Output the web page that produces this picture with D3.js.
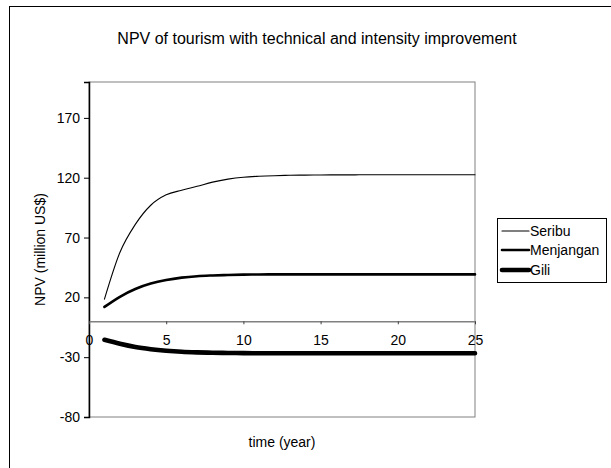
<!DOCTYPE html>
<html>
<head>
<meta charset="utf-8">
<script src="https://cdn.jsdelivr.net/npm/d3@7/dist/d3.min.js"></script>
<style>
  html, body { margin: 0; padding: 0; background: #fff; }
  svg { display: block; font-family: Arial, "Liberation Sans", sans-serif; }
</style>
</head>
<body>
<svg id="chart" width="611" height="468"></svg>
<script>
const title = "NPV of tourism with technical and intensity improvement";
const xLabel = "time (year)";
const yLabel = "NPV (million US$)";
const years = [1,2,3,4,5,6,7,8,9,10,11,12,13,14,15,16,17,18,19,20,21,22,23,24,25];
const seribu = [18.5,57.5,81,97,105.7,109.5,112.8,116.3,118.8,120.4,121.2,121.7,122.0,122.2,122.3,122.4,122.4,122.5,122.5,122.5,122.5,122.5,122.5,122.5,122.5];
const menjangan = [12,20.5,27,31.5,34.5,36.5,37.7,38.3,38.7,39.0,39.1,39.2,39.2,39.2,39.2,39.2,39.2,39.2,39.2,39.2,39.2,39.2,39.2,39.2,39.2];
const gili = [-15.5,-18.8,-21.5,-23.3,-24.6,-25.5,-26.0,-26.3,-26.5,-26.6,-26.7,-26.7,-26.7,-26.7,-26.7,-26.7,-26.7,-26.7,-26.7,-26.7,-26.7,-26.7,-26.7,-26.7,-26.7];
const seriesNames = ["Seribu","Menjangan","Gili"];
const seriesWidths = [1.1, 2.6, 4.6];
const yTicks = [-80,-30,20,70,120,170];
const xTicks = [0,5,10,15,20,25];

const FONT = "Arial, 'Liberation Sans', sans-serif";
const svg = d3.select("#chart");
const L = 89, R = 475, T = 82, B = 417;

// outer chart border
svg.append("rect").attr("x", 9.5).attr("y", 6.5).attr("width", 640).attr("height", 500)
  .attr("fill", "none").attr("stroke", "#000").attr("stroke-width", 1);

const x = d3.scaleLinear().domain([0, 25]).range([L, R]);
const y = d3.scaleLinear().domain([-80, 200]).range([B, T]);

// plot area border
svg.append("rect").attr("x", L).attr("y", T).attr("width", R - L).attr("height", B - T)
  .attr("fill", "none").attr("stroke", "#808080").attr("stroke-width", 1);

// title
svg.append("text").attr("x", 317).attr("y", 44).attr("text-anchor", "middle")
  .attr("font-size", 16).attr("fill", "#000").text(title);

// y axis
const yAxis = svg.append("g").attr("transform", `translate(${L},0)`)
  .call(d3.axisLeft(y).tickValues(yTicks).tickSize(5).tickPadding(4).tickFormat(d => String(d)));
yAxis.select(".domain").attr("stroke", "#000").attr("stroke-width", 1.5);
yAxis.selectAll(".tick line").attr("stroke", "#000");
yAxis.selectAll("text").attr("font-size", 14).attr("fill", "#000").attr("font-family", FONT);

// x axis at y=0
const xAxis = svg.append("g").attr("transform", `translate(0,${y(0)})`)
  .call(d3.axisBottom(x).tickValues(xTicks).tickSize(3).tickPadding(11).tickSizeOuter(0).tickFormat(d => String(d)));
xAxis.select(".domain").attr("stroke", "#808080").attr("stroke-width", 1.5);
xAxis.selectAll(".tick line").attr("stroke", "#404040");
xAxis.selectAll("text").attr("font-size", 14).attr("fill", "#000").attr("font-family", FONT);

// axis titles
svg.append("text").attr("x", (L + R) / 2).attr("y", 447).attr("text-anchor", "middle")
  .attr("font-size", 14).text(xLabel);
svg.append("text").attr("transform", `translate(45,${(T + B) / 2}) rotate(-90)`)
  .attr("text-anchor", "middle").attr("font-size", 14).text(yLabel);

// lines
const all = [seribu, menjangan, gili];
const line = d3.line().x((d, i) => x(years[i])).y(d => y(d)).curve(d3.curveMonotoneX);
all.forEach((vals, k) => {
  svg.append("path").datum(vals).attr("d", line)
    .attr("fill", "none").attr("stroke", "#000").attr("stroke-width", seriesWidths[k])
    .attr("stroke-linejoin", "round").attr("stroke-linecap", "round");
});

// legend
const lg = svg.append("g");
lg.append("rect").attr("x", 497.5).attr("y", 218.5).attr("width", 109).attr("height", 64)
  .attr("fill", "#fff").attr("stroke", "#000").attr("stroke-width", 1);
const legendY = [231, 250, 270];
seriesNames.forEach((name, k) => {
  lg.append("line").attr("x1", 502).attr("x2", 529).attr("y1", legendY[k]).attr("y2", legendY[k])
    .attr("stroke", "#000").attr("stroke-width", seriesWidths[k]).attr("stroke-linecap", "round");
  lg.append("text").attr("x", 530).attr("y", legendY[k] + 5).attr("font-size", 14).text(name);
});
</script>
</body>
</html>
